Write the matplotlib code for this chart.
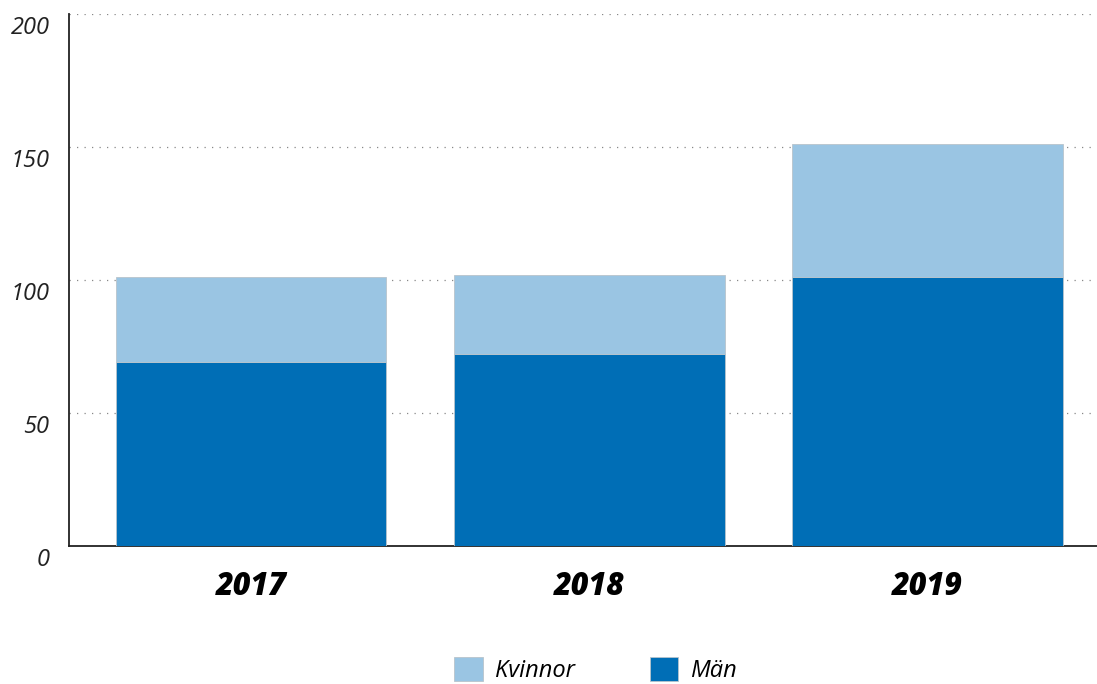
import numpy as np
import matplotlib.pyplot as plt
import matplotlib.transforms as mtransforms

# data
years = ['2017', '2018', '2019']
man = [69, 72, 101]
kvinnor = [32, 30, 50]
yticks = [0, 50, 100, 150, 200]

c_man = '#006eb6'
c_kv = '#9ac5e3'

fig = plt.figure(figsize=(10.97, 6.84), dpi=100)
ax = fig.add_axes([0.0629, 0.2018, 0.9371, 0.7777])

x = np.arange(len(years))
ax.bar(x, man, width=0.8, color=c_man, edgecolor='#b8c4cc', linewidth=0.6, label='Män', zorder=3)
ax.bar(x, kvinnor, width=0.8, bottom=man, color=c_kv, edgecolor='#b8c4cc', linewidth=0.6,
       label='Kvinnor', zorder=3)

ax.set_xlim(-0.538, 2.50)
ax.set_ylim(0, 200)
ax.set_yticks(yticks)
ax.yaxis.grid(True, linestyle=(0, (1, 5)), color='#888888', linewidth=0.9)
ax.set_axisbelow(True)

ax.spines['right'].set_visible(False)
ax.spines['top'].set_visible(False)
ax.spines['left'].set_color('#222222')
ax.spines['bottom'].set_color('#222222')
ax.spines['left'].set_linewidth(1.3)
ax.spines['bottom'].set_linewidth(1.3)

ax.tick_params(axis='y', length=0, pad=14, labelsize=17, labelcolor='#222222')
ax.tick_params(axis='x', length=0, pad=18)
# labels sit a bit below their gridlines in the original
shift = mtransforms.ScaledTranslation(0, -11 / 100, fig.dpi_scale_trans)
for t in ax.get_yticklabels():
    t.set_fontstyle('italic')
    t.set_family('Open Sans')
    t.set_transform(t.get_transform() + shift)
ax.set_xticks(x)
ax.set_xticklabels(years, fontsize=22, fontweight='heavy', fontstyle='italic', family='Open Sans')

handles, labels = ax.get_legend_handles_labels()
leg = fig.legend(handles[::-1], labels[::-1], loc='lower center', bbox_to_anchor=(0.543, -0.03),
                 ncol=2, frameon=False, handlelength=1.2, handleheight=1.2,
                 columnspacing=3.2, handletextpad=0.5,
                 prop={'family': 'Open Sans', 'style': 'italic', 'size': 17})

fig.savefig('out.png', dpi=100)
